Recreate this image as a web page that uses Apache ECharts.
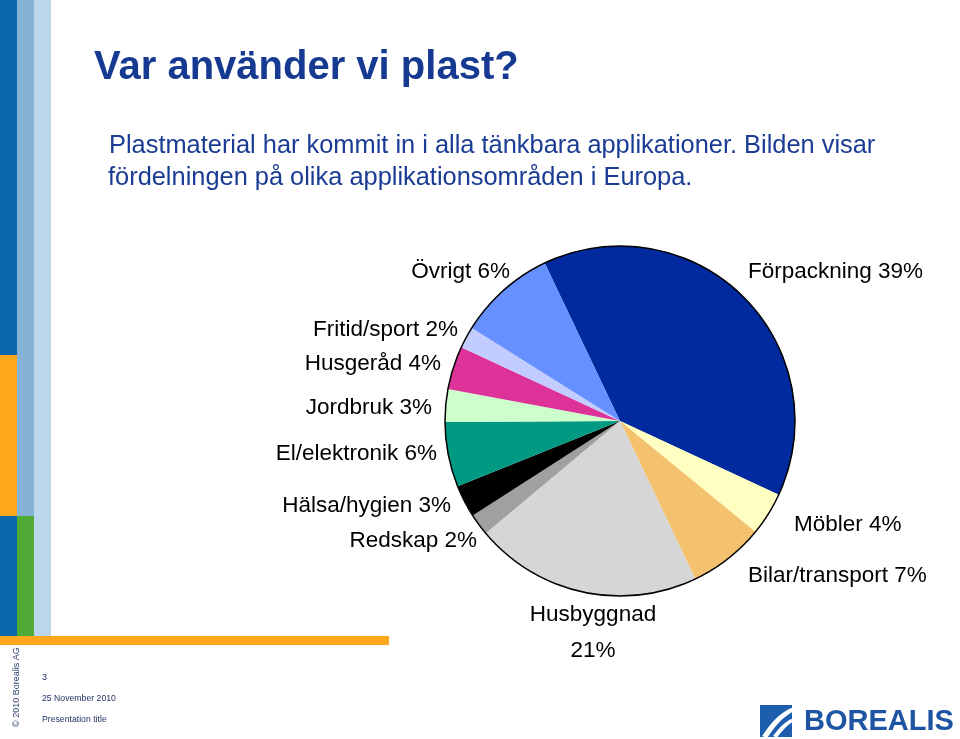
<!DOCTYPE html>
<html>
<head>
<meta charset="utf-8">
<script src="https://cdn.jsdelivr.net/npm/echarts@6/dist/echarts.min.js"></script>
<style>
  html, body { margin: 0; padding: 0; background: #fff; }
  #chart { width: 960px; height: 739px; }
</style>
</head>
<body>
<div id="chart"></div>
<script>
// slices, clockwise from the top-left edge of Förpackning
const categories = ['Förpackning', 'Möbler', 'Bilar/transport', 'Husbyggnad', 'Redskap',
  'Hälsa/hygien', 'El/elektronik', 'Jordbruk', 'Husgeråd', 'Fritid/sport', 'Övrigt']
// slice sizes as drawn (Övrigt is drawn bigger than its label says)
const values = [39, 4, 7, 21, 2, 3, 6, 3, 4, 2, 9]
// percent printed in each label
const labelPct = [39, 4, 7, 21, 2, 3, 6, 3, 4, 2, 6]

const colors = ['#002a9e', '#ffffc2', '#f4c26e', '#d6d6d6', '#a0a0a0',
  '#000000', '#009a82', '#ccffcc', '#dd3399', '#c2ccff', '#6690ff']

// label anchor: x, y, align
const labelPos = [
  [748, 272, 'left'],
  [794, 525, 'left'],
  [748, 576, 'left'],
  [593, 633, 'center'],
  [477, 541, 'right'],
  [451, 506, 'right'],
  [437, 454, 'right'],
  [432, 408, 'right'],
  [441, 364, 'right'],
  [458, 330, 'right'],
  [510, 272, 'right']
]

const FONT = '"Liberation Sans", Arial, sans-serif'
const chart = echarts.init(document.getElementById('chart'))

// white swoosh of the logo, built as a curved band
function swoosh (x0, y0, x1, y1, bend, w) {
  const pts = []
  for (let t = 0; t <= 1.0001; t += 0.1) {
    const x = x0 + (x1 - x0) * t
    const y = y0 + (y1 - y0) * t + bend * Math.sin(Math.PI * t)
    pts.push([x, y])
  }
  const back = pts.slice().reverse().map(p => [p[0] + w, p[1] + w * 0.4])
  return pts.concat(back)
}

chart.setOption({
  animation: false,
  graphic: [
    // left stripes
    { type: 'rect', shape: { x: 0, y: 0, width: 17, height: 355 }, style: { fill: '#0867ad' } },
    { type: 'rect', shape: { x: 0, y: 355, width: 17, height: 161 }, style: { fill: '#fca71c' } },
    { type: 'rect', shape: { x: 0, y: 516, width: 17, height: 120 }, style: { fill: '#0867ad' } },
    { type: 'rect', shape: { x: 17, y: 0, width: 17, height: 516 }, style: { fill: '#84b3d6' } },
    { type: 'rect', shape: { x: 17, y: 516, width: 17, height: 120 }, style: { fill: '#4fab36' } },
    { type: 'rect', shape: { x: 34, y: 0, width: 17, height: 636 }, style: { fill: '#bad6eb' } },
    { type: 'rect', shape: { x: 0, y: 636, width: 389, height: 9 }, style: { fill: '#fca71c' } },
    // title and text
    {
      type: 'text', x: 94, y: 68,
      style: { text: 'Var använder vi plast?', font: 'bold 40px ' + FONT, fill: '#163a92', verticalAlign: 'middle' }
    },
    {
      type: 'text', x: 109, y: 146,
      style: { text: 'Plastmaterial har kommit in i alla tänkbara applikationer. Bilden visar', font: '25.4px ' + FONT, fill: '#1a3c94', verticalAlign: 'middle' }
    },
    {
      type: 'text', x: 108, y: 178,
      style: { text: 'fördelningen på olika applikationsområden i Europa.', font: '25.4px ' + FONT, fill: '#1a3c94', verticalAlign: 'middle' }
    },
    // footer
    {
      type: 'text', x: 17, y: 727, rotation: Math.PI / 2,
      style: { text: '© 2010 Borealis AG', font: '9px ' + FONT, fill: '#2e3f6e', verticalAlign: 'middle' }
    },
    { type: 'text', x: 42, y: 678, style: { text: '3', font: '9px ' + FONT, fill: '#1e2d5e', verticalAlign: 'middle' } },
    { type: 'text', x: 42, y: 699, style: { text: '25 November 2010', font: '8.7px ' + FONT, fill: '#1e2d5e', verticalAlign: 'middle' } },
    { type: 'text', x: 42, y: 720, style: { text: 'Presentation title', font: '8.7px ' + FONT, fill: '#1e2d5e', verticalAlign: 'middle' } },
    // logo
    { type: 'rect', shape: { x: 760, y: 705, width: 32, height: 32 }, style: { fill: '#1d5eae' } },
    { type: 'polygon', shape: { points: swoosh(762, 736, 791, 708, -4, 5) }, style: { fill: '#ffffff' } },
    { type: 'polygon', shape: { points: swoosh(773, 736, 791, 719, -2, 4) }, style: { fill: '#ffffff' } },
    {
      type: 'text', x: 804, y: 722,
      style: { text: 'BOREALIS', font: 'bold 29px ' + FONT, fill: '#1d55a3', verticalAlign: 'middle' }
    }
  ],
  series: [
    {
      type: 'pie',
      center: [620, 421],
      radius: 175,
      startAngle: 115.5,
      clockwise: true,
      avoidLabelOverlap: false,
      silent: true,
      data: categories.map((name, i) => ({
        name: name,
        value: values[i],
        itemStyle: { color: colors[i] }
      })),
      itemStyle: { borderWidth: 0 },
      label: {
        show: true,
        color: '#000',
        fontFamily: FONT,
        fontSize: 22.5,
        lineHeight: 36,
        formatter: p => p.name + (p.dataIndex === 3 ? '\n' : ' ') + labelPct[p.dataIndex] + '%'
      },
      labelLine: { show: false },
      labelLayout: p => {
        const pos = labelPos[p.dataIndex]
        return { x: pos[0], y: pos[1], align: pos[2], verticalAlign: 'middle' }
      }
    },
    {
      // outline of the pie
      type: 'pie',
      center: [620, 421],
      radius: 175,
      silent: true,
      label: { show: false },
      labelLine: { show: false },
      itemStyle: { color: 'rgba(0,0,0,0)', borderColor: '#000', borderWidth: 1.5 },
      data: [{ value: 1, name: '' }]
    }
  ]
})
</script>
</body>
</html>
